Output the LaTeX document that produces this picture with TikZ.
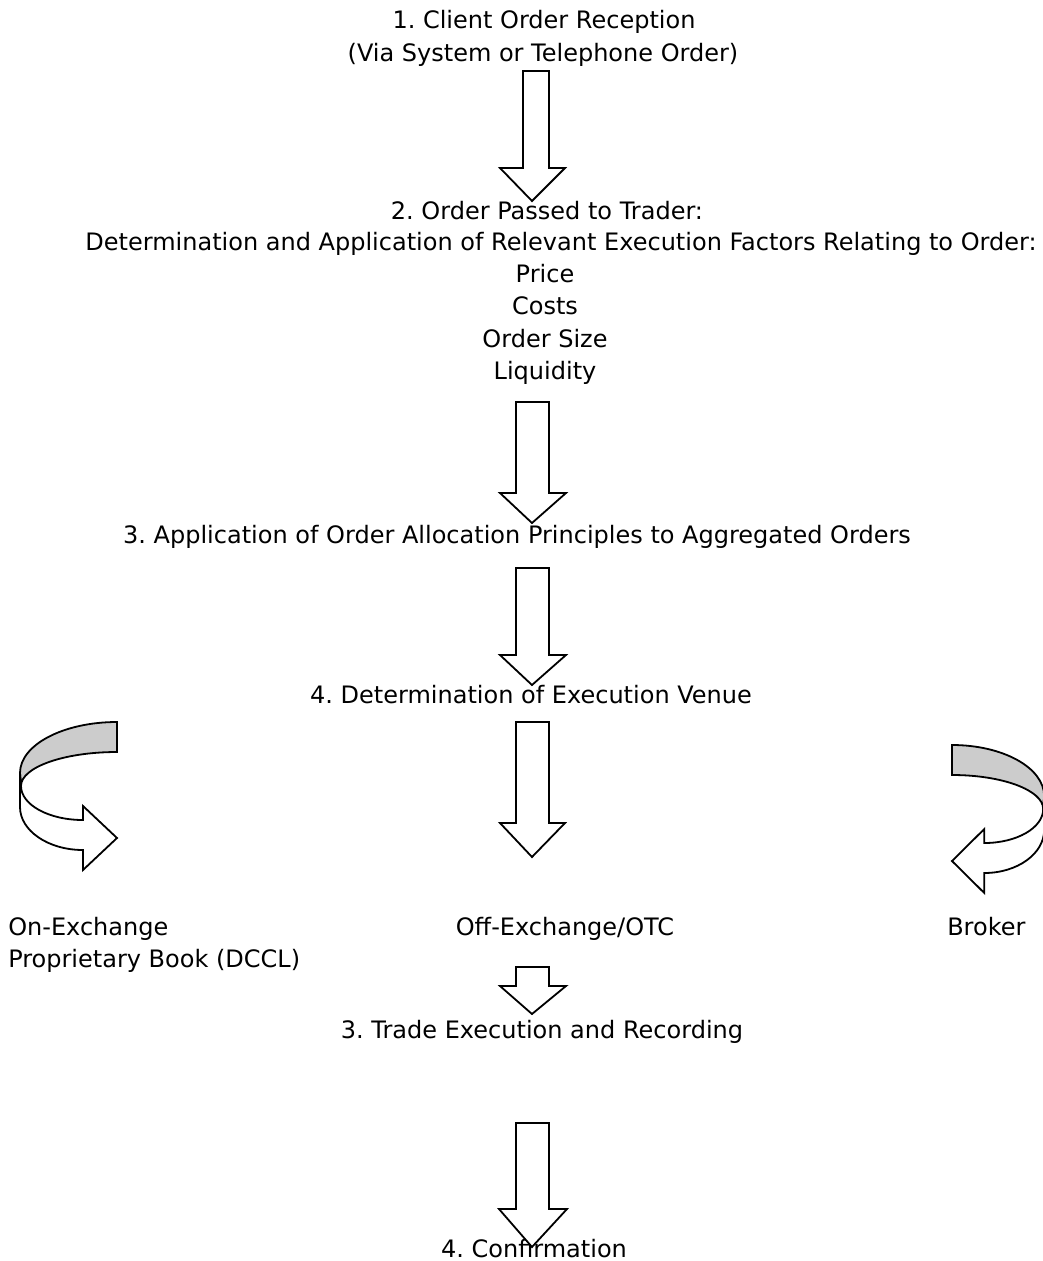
\documentclass[tikz,border=0pt]{standalone}
\usepackage{fontspec}
\setmainfont{DejaVu Sans}
\newcommand{\blockarr}[8]{%
  \draw[blockarrow] (#1,#3) -- (#2,#3) -- (#2,#4) -- (#6,#4) -- (#7,#8) -- (#5,#4) -- (#1,#4) -- cycle;}
\newcommand{\curvarr}{%
  \draw[band] (117,722) .. controls (63.4,722) and (20,744.8) .. (20,773)
     -- (21,786) .. controls (21,767.2) and (64,752) .. (117,752) -- cycle;
  \draw[blockarrow] (20,773) -- (20,807) .. controls (20,830.7) and (48.2,850) .. (83,850)
     -- (83,870) -- (117,838) -- (83,806) -- (83,820)
     .. controls (48.8,820) and (21,804.8) .. (21,786) -- cycle;}
\begin{document}
\frenchspacing
\begin{tikzpicture}[x=0.75pt,y=-0.75pt,
  txt/.style={inner sep=0pt, anchor=base, font=\fontsize{18pt}{24pt}\selectfont},
  txtl/.style={txt, anchor=base west},
  blockarrow/.style={draw=black, line width=1.35pt, fill=white, line join=miter},
  band/.style={draw=black, line width=1.35pt, fill=gray!40, line join=miter}]
\useasboundingbox (0,0) rectangle (1043,1261);
\clip (0,0) rectangle (1043,1261);
\fill[white] (0,0) rectangle (1043,1261);

% texts
\node[txt] (t1a) at (544,28) {1. Client Order Reception};
\node[txt] (t1b) at (543,61) {(Via System or Telephone Order)};
\node[txt] (t2a) at (547,219) {2. Order Passed to Trader:};
\node[txt] (t2b) at (561,250) {Determination and Application of Relevant Execution Factors Relating to Order:};
\node[txt] (f1) at (545,282) {Price};
\node[txt] (f2) at (545,314) {Costs};
\node[txt] (f3) at (545,347) {Order Size};
\node[txt] (f4) at (545,379) {Liquidity};
\node[txt] (t3) at (517,543) {3. Application of Order Allocation Principles to Aggregated Orders};
\node[txt] (t4) at (531,703) {4. Determination of Execution Venue};
\node[txtl] (on1) at (8,935) {On-Exchange};
\node[txtl] (on2) at (8,967) {Proprietary Book (DCCL)};
\node[txt] (off) at (565,935) {Off-Exchange/OTC};
\node[txtl] (brk) at (947,935) {Broker};
\node[txt] (t5) at (542,1038) {3. Trade Execution and Recording};
\node[txt] (t6) at (534,1257) {4. Confirmation};

% straight block arrows
\blockarr{523}{549}{71}{168}{500}{565}{532}{201}
\blockarr{516}{549}{402}{493}{500}{566}{532}{523}
\blockarr{516}{549}{568}{655}{500}{566}{532}{685}
\blockarr{516}{549}{722}{823}{500}{565}{532}{857}
\blockarr{516}{549}{967}{986}{500}{566}{532}{1014}
\blockarr{516}{549}{1123}{1209}{499}{567}{532}{1247}

% curved arrows
\curvarr
\begin{scope}[shift={(1063.15,23)}, xscale=-0.95]
\curvarr
\end{scope}
\end{tikzpicture}
\end{document}
